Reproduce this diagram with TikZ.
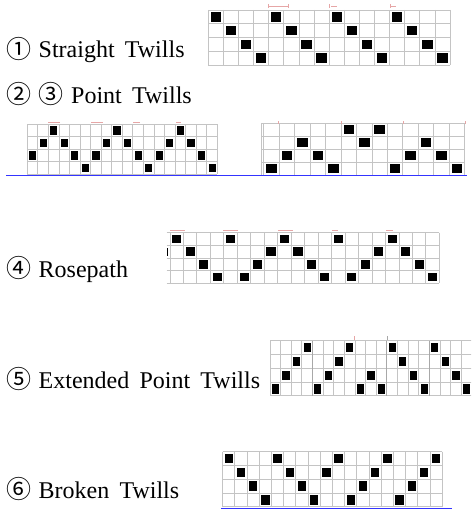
\documentclass[tikz,border=0pt]{standalone}
\usepackage{fontspec}
\setmainfont{Liberation Serif}[WordSpace=1.7]
\newfontfamily\circfont{Noto Sans CJK KR}
\newcommand\cnum[1]{\raisebox{-0.8pt}{\circfont\fontsize{25}{28}\selectfont #1}}
\definecolor{gridgrey}{HTML}{C4C4C4}
\definecolor{sepgrey}{HTML}{A8A8A8}
\definecolor{ruleblue}{HTML}{3434FF}
\definecolor{tickred}{HTML}{E6A6A6}
\tikzset{
  gridline/.style={draw=gridgrey, line width=0.9pt},
  sepline/.style={draw=sepgrey, line width=1.1pt},
  cellfill/.style={fill=black},
  blueline/.style={draw=ruleblue, line width=1.3pt},
  tick/.style={draw=tickred, line width=0.7pt},
  lbl/.style={anchor=base west, inner sep=0pt, font=\fontsize{24}{28}\selectfont},
}
% x0 y0 cellwidth cellheight ncols pattern(row of black cell per column)
\newcommand\weavegrid[6]{%
  \foreach \i in {0,...,#5}{\draw[gridline] ({#1+\i*#3},{#2}) -- ++(0,{4*#4});}
  \foreach \j in {0,...,4}{\draw[gridline] ({#1},{#2+\j*#4}) -- ++({#5*#3},0);}
  \foreach \r [count=\c] in {#6}{%
    \fill[cellfill] ({#1+(\c-1)*#3+0.16*#3},{#2+(\r-1)*#4+0.16*#4}) rectangle ++({0.68*#3},{0.68*#4});
  }%
}
\begin{document}
\begin{tikzpicture}[x=1pt,y=-1pt]
\useasboundingbox (0,0) rectangle (471,511);
\begin{scope}
\clip (0,0) rectangle (471,511);

% labels
\node[lbl] (t1) at (6,58)  {\cnum{①}\hspace{7.5pt}Straight Twills};
\node[lbl] (t2) at (6,103) {\cnum{②}\hspace{7.5pt}\cnum{③}\hspace{7.5pt}Point Twills};
\node[lbl] (t3) at (6,277) {\cnum{④}\hspace{7.5pt}Rosepath};
\node[lbl] (t4) at (6,388) {\cnum{⑤}\hspace{7.5pt}Extended Point Twills};
\node[lbl] (t5) at (6,498) {\cnum{⑥}\hspace{7.5pt}Broken Twills};

% (1) straight twill
\weavegrid{208.3}{10}{15.11}{13.75}{16}{1,2,3,4,1,2,3,4,1,2,3,4,1,2,3,4}
\draw[tick] (268,6) -- (288,6) (268,4) -- (268,8) (288,4) -- (288,8);
\draw[tick] (329,4) -- (329,8) (331,6) -- (337,6);
\draw[tick] (390,4) -- (390,8) (391,6) -- (396,6);

% (2) point twill
\weavegrid{27.3}{124.3}{10.56}{12.5}{18}{3,2,1,2,3,4,3,2,1,2,3,4,3,2,1,2,3,4}
\draw[tick] (48,122) -- (60,122) (91,122) -- (103,122) (133,122) -- (140,122) (176,122) -- (181,122);

% (3) point twill
\weavegrid{263.7}{123}{15.47}{13}{13}{4,3,2,3,4,1,2,1,4,3,2,3,4}
\foreach \j in {0,...,4}{\draw[gridline] (261,{123+\j*13}) -- (263.7,{123+\j*13});}
\draw[gridline] (261,123) -- (261,175);
\draw[tick] (278,121) -- (278,124) (341,121) -- (341,124) (403,121) -- (403,124) (465,121) -- (465,124);

\draw[blueline] (6,175.5) -- (467,175.5);

% (4) rosepath
\weavegrid{170}{232.7}{13.47}{12.67}{20}{1,2,3,4,1,4,3,2,1,2,3,4,1,4,3,2,1,2,3,4}
\foreach \j in {0,...,4}{\draw[gridline] (166.7,{232.7+\j*12.67}) -- (170,{232.7+\j*12.67});}
\fill[cellfill] (166.7,247.7) rectangle (168.4,255.7);
\draw[tick] (170,230) -- (185,230) (223,230) -- (238,230) (278,230) -- (293,230) (332,230) -- (338,230) (386,230) -- (393,230);

% (5) extended point twill
\weavegrid{270}{340.7}{10.63}{13.8}{19}{4,3,2,1,4,3,2,1,4,3,4,1,2,3,4,1,2,3,4}
\foreach \k in {4,11,15}{\draw[sepline] ({270+\k*10.63},340.7) -- ++(0,55.2);}
\draw[tick] (354.5,336) -- (354.5,340);
\draw[draw=sepgrey, line width=0.7pt] (387,336) -- (387,340);

% (6) broken twill
\weavegrid{222.7}{451.7}{12.2}{13.75}{18}{1,2,3,4,1,2,3,4,2,1,4,3,2,1,4,3,2,1}
\draw[blueline] (221,508.3) -- (452,508.3);
\end{scope}
\end{tikzpicture}
\end{document}
